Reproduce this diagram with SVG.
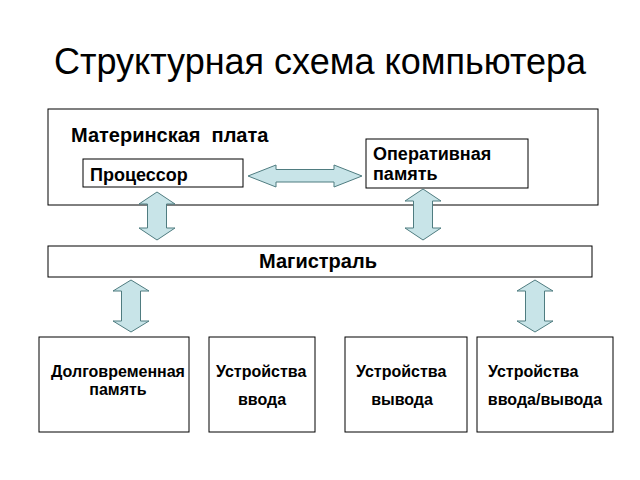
<svg xmlns="http://www.w3.org/2000/svg" width="640" height="480" viewBox="0 0 640 480">
<style>
.box{fill:#fff;stroke:#000;stroke-width:1}
.t{font-family:"Liberation Sans",Arial,sans-serif;font-weight:bold;font-size:16px;fill:#000}
.m{font-size:18px}
.l{font-size:20px}
.title{font-family:"Liberation Sans",Arial,sans-serif;font-size:36px;fill:#000}
.arr{fill:#c8e4e8;stroke:#4f7c80;stroke-width:1}
</style>
<rect width="640" height="480" fill="#fff"/>
<text class="title" x="320" y="74" text-anchor="middle">Структурная схема компьютера</text>
<g id="motherboard">
<rect class="box" x="48" y="109" width="550" height="96"/>
<text class="t l" x="71" y="142" xml:space="preserve">Материнская  плата</text>
</g>
<g id="cpu">
<rect class="box" x="83" y="159" width="160" height="28"/>
<text class="t m" x="90" y="181">Процессор</text>
</g>
<g id="ram">
<rect class="box" x="366" y="139" width="162" height="49"/>
<text class="t m" x="373" y="160">Оперативная</text>
<text class="t m" x="373" y="180">память</text>
</g>
<g id="bus">
<rect class="box" x="48" y="246" width="544" height="31"/>
<text class="t l" x="318" y="268" text-anchor="middle">Магистраль</text>
</g>
<g id="storage">
<rect class="box" x="39" y="337" width="150" height="95"/>
<text class="t" x="51" y="377">Долговременная</text>
<text class="t" x="118" y="395" text-anchor="middle">память</text>
</g>
<g id="input">
<rect class="box" x="209" y="337" width="106" height="95"/>
<text class="t" x="216" y="377">Устройства</text>
<text class="t" x="262" y="405" text-anchor="middle">ввода</text>
</g>
<g id="output">
<rect class="box" x="345" y="337" width="122" height="95"/>
<text class="t" x="356" y="377">Устройства</text>
<text class="t" x="402" y="405" text-anchor="middle">вывода</text>
</g>
<g id="io">
<rect class="box" x="477" y="337" width="136" height="95"/>
<text class="t" x="488" y="377">Устройства</text>
<text class="t" x="545" y="405" text-anchor="middle">ввода/вывода</text>
</g>
<g id="connectors">
<path class="arr" d="M248,176 L276,165 L276,169.5 L334,169.5 L334,165 L362,176 L334,187 L334,182 L276,182 L276,187 Z"/>
<path class="arr" d="M157,192 L175,204 L166.5,204 L166.5,228 L175,228 L157,240 L139,228 L147.5,228 L147.5,204 L139,204 Z"/>
<path class="arr" d="M423,189 L441,201 L432.5,201 L432.5,228 L441,228 L423,240 L405,228 L413.5,228 L413.5,201 L405,201 Z"/>
<path class="arr" d="M131,280 L149,291 L140.5,291 L140.5,321 L149,321 L131,332 L113,321 L121.5,321 L121.5,291 L113,291 Z"/>
<path class="arr" d="M535,280 L553,291 L544.5,291 L544.5,321 L553,321 L535,332 L517,321 L525.5,321 L525.5,291 L517,291 Z"/>
</g>
</svg>
